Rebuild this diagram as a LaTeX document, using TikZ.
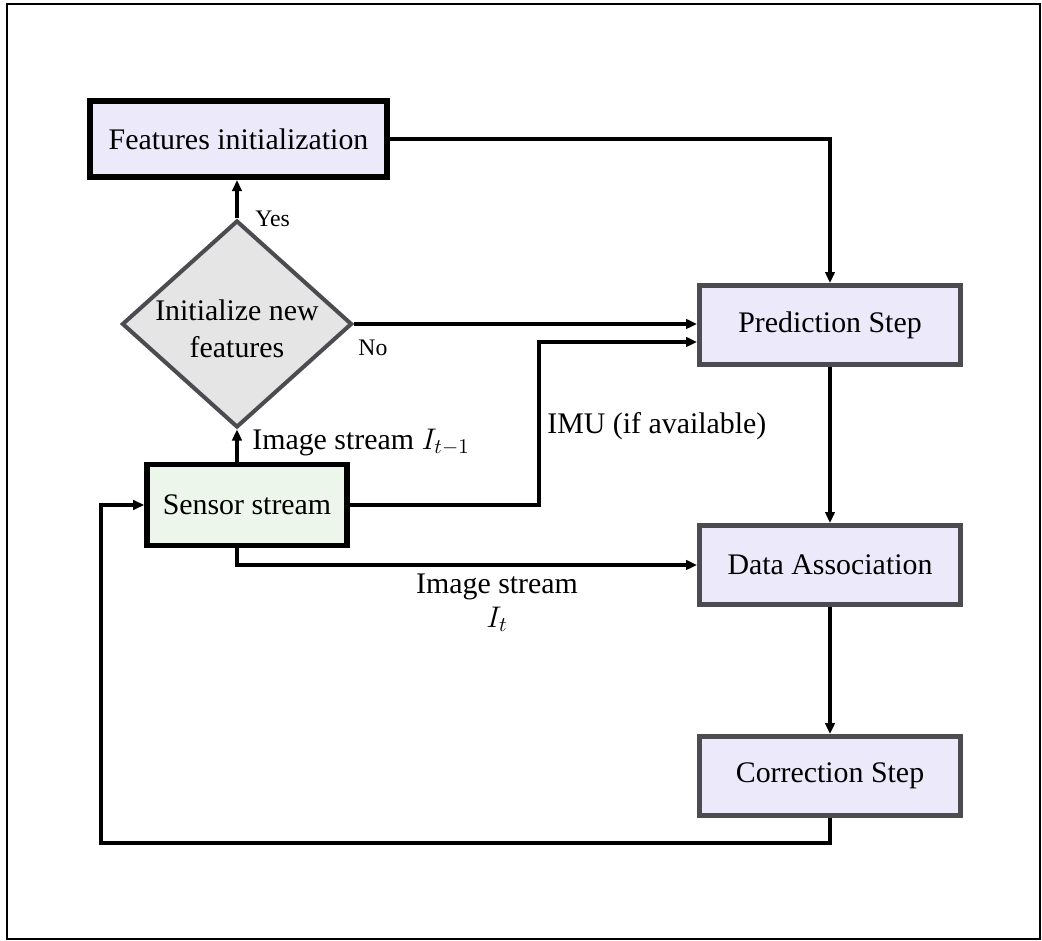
\RequirePackage{fix-cm}
\documentclass[tikz,border=0pt]{standalone}
\usepackage[no-math]{fontspec}
\setmainfont{Liberation Serif}
\usepackage{tikz}
\usetikzlibrary{arrows.meta,positioning,shapes,calc}

\definecolor{boxfill}{RGB}{236,234,250}
\definecolor{sensfill}{RGB}{237,246,234}
\definecolor{decfill}{RGB}{229,229,229}
\definecolor{boxline}{RGB}{75,75,80}

\begin{document}
\begin{tikzpicture}[every node/.style={font=\fontsize{17}{20}\selectfont},
        procbox/.style={draw=boxline, line width=2.8pt, fill=boxfill, minimum width=5.22cm, minimum height=1.58cm},
        decision/.style={diamond, draw=boxline, line width=2.3pt, fill=decfill, minimum width=4.6cm, minimum height=4.14cm, inner sep=0pt},
        lbl/.style={inner sep=0pt},
        smalllbl/.style={inner sep=0pt, font=\fontsize{13.5}{16}\selectfont},
        arr/.style={line width=2.6pt, -{Triangle[length=2.2mm,width=1.9mm]}}]
                \useasboundingbox (0,0) rectangle (20.84,18.82);
                \draw[line width=1.1pt] (0.14,0.04) rectangle (20.8,18.74);
                % boxes
                \node[procbox, draw=black, line width=3.2pt, minimum width=5.95cm, minimum height=1.53cm] (featinit) at (4.77,16.04) {Features initialization};
                \node[decision] (decide) at (4.74,12.34) {};
                \node[lbl, align=center, font=\fontsize{17}{21}\selectfont] (decidetext) at ([yshift=-0.1cm]decide.center) {Initialize new\\features};
                \node[procbox, draw=black, line width=3.2pt, fill=sensfill, minimum width=4cm, minimum height=1.62cm] (sensor) at (4.94,8.72) {Sensor stream};
                \node[procbox] (pred) at (16.6,12.32) {Prediction Step};
                \node[procbox] (assoc) at (16.6,7.52) {Data Association};
                \node[procbox] (corr) at (16.6,3.30) {Correction Step};
                \coordinate (loopcorner) at (2.02,1.96);
                % connectors
                \draw[arr] (featinit.east) -| (pred.north);
                \draw[arr] (decide.north) -- (decide.north |- featinit.south);
                \draw[arr] (decide.east) -- (decide.east -| pred.west);
                \draw[arr] (decide.south |- sensor.north) -- (decide.south);
                \draw[arr] (sensor.east) -- ++(3.78,0) |- ([yshift=-0.34cm]pred.west);
                \draw[arr] (decide.south |- sensor.south) |- (assoc.west);
                \draw[arr] (pred.south) -- (assoc.north);
                \draw[arr] (assoc.south) -- (corr.north);
                \draw[arr] (corr.south) |- (loopcorner) |- (sensor.west);
                % labels
                \node[smalllbl, anchor=west] (yes) at ([xshift=0.36cm]decide.north) {Yes};
                \node[smalllbl, anchor=west] (no) at ([xshift=0.08cm,yshift=-0.48cm]decide.east) {No};
                \node[lbl, anchor=base west] (previmg) at ([xshift=0.3cm,yshift=-0.4cm]decide.south) {Image stream $I_{t-1}$};
                \node[lbl, anchor=base west] (imu) at (10.94,10.14) {IMU (if available)};
                \node[lbl, anchor=north, align=center, font=\fontsize{17}{19}\selectfont] (curimg) at (9.94,7.34) {Image stream\\$I_t$};
            \end{tikzpicture}
\end{document}
